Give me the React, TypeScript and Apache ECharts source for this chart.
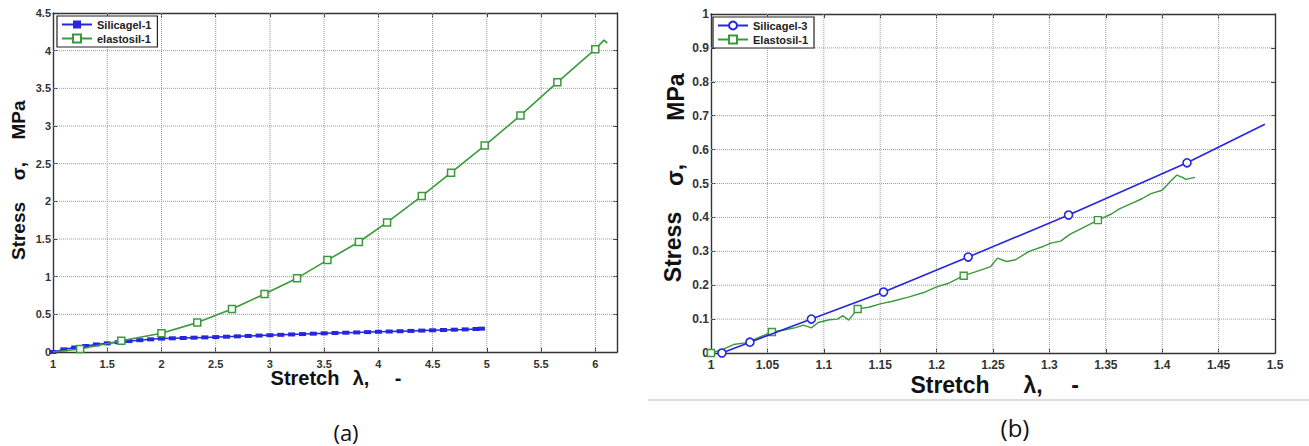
import React, { useEffect, useRef } from "react";
import * as echarts from "echarts";

// ---- Panel (a) data ----
const silicagel1Lambda = [1.0, 1.1, 1.2, 1.3, 1.4, 1.5, 1.6, 1.7, 1.8, 1.9, 2.0, 2.1, 2.2, 2.3, 2.4, 2.5, 2.6, 2.7, 2.8, 2.9, 3.0, 3.1, 3.2, 3.3, 3.4, 3.5, 3.6, 3.7, 3.8, 3.9, 4.0, 4.1, 4.2, 4.3, 4.4, 4.5, 4.6, 4.7, 4.8, 4.9, 4.95];
const silicagel1Stress = [0, 0.035, 0.06, 0.08, 0.1, 0.115, 0.13, 0.145, 0.157, 0.168, 0.178, 0.182, 0.186, 0.19, 0.194, 0.198, 0.203, 0.208, 0.213, 0.218, 0.223, 0.228, 0.233, 0.238, 0.243, 0.248, 0.252, 0.256, 0.26, 0.264, 0.268, 0.272, 0.276, 0.28, 0.284, 0.288, 0.292, 0.296, 0.3, 0.305, 0.31];

const elastosilALambda = [1.0, 1.25, 1.63, 2.0, 2.33, 2.65, 2.95, 3.25, 3.53, 3.82, 4.08, 4.4, 4.67, 4.98, 5.31, 5.65, 6.0, 6.08, 6.11];
const elastosilAStress = [0, 0.04, 0.15, 0.25, 0.39, 0.57, 0.77, 0.98, 1.22, 1.46, 1.72, 2.07, 2.38, 2.74, 3.14, 3.58, 4.02, 4.14, 4.1];
const elastosilAMarkers = [1.25, 1.63, 2.0, 2.33, 2.65, 2.95, 3.25, 3.53, 3.82, 4.08, 4.4, 4.67, 4.98, 5.31, 5.65, 6.0];

const gridXTicksA = [1.5, 2, 2.5, 3, 3.5, 4, 4.5, 5, 5.5, 6];
const gridYTicksA = [0.5, 1, 1.5, 2, 2.5, 3, 3.5, 4];

// ---- Panel (b) data ----
const silicagel3Lambda = [1.0097, 1.0345, 1.089, 1.153, 1.228, 1.317, 1.422, 1.491];
const silicagel3Stress = [0, 0.032, 0.1, 0.18, 0.283, 0.407, 0.561, 0.675];
const silicagel3Markers = [1.0097, 1.0345, 1.089, 1.153, 1.228, 1.317, 1.422];

const elastosilBLambda = [1.0, 1.01, 1.02, 1.03, 1.04, 1.054, 1.065, 1.075, 1.082, 1.089, 1.095, 1.105, 1.112, 1.117, 1.122, 1.13, 1.14, 1.15, 1.16, 1.175, 1.19, 1.2, 1.21, 1.224, 1.235, 1.248, 1.254, 1.262, 1.27, 1.282, 1.295, 1.302, 1.31, 1.318, 1.33, 1.343, 1.355, 1.362, 1.372, 1.382, 1.39, 1.4, 1.407, 1.413, 1.418, 1.421, 1.429];
const elastosilBStress = [0, 0.01, 0.025, 0.03, 0.042, 0.062, 0.068, 0.075, 0.082, 0.074, 0.09, 0.098, 0.1, 0.11, 0.097, 0.13, 0.135, 0.145, 0.152, 0.165, 0.18, 0.195, 0.205, 0.228, 0.24, 0.255, 0.28, 0.27, 0.275, 0.3, 0.315, 0.325, 0.33, 0.35, 0.37, 0.392, 0.41, 0.425, 0.44, 0.455, 0.47, 0.48, 0.505, 0.525, 0.518, 0.512, 0.518];
const elastosilBMarkers = [1.0, 1.054, 1.13, 1.224, 1.343];

const gridXTicksB = [1.05, 1.1, 1.15, 1.2, 1.25, 1.3, 1.35, 1.4, 1.45];
const gridYTicksB = [0.1, 0.2, 0.3, 0.4, 0.5, 0.6, 0.7, 0.8, 0.9];

const legendA = ["Silicagel-1", "elastosil-1"];
const legendB = ["Silicagel-3", "Elastosil-1"];

const RANGE_A = { xMin: 1, xMax: 6.2, yMin: 0, yMax: 4.5 };
const RANGE_B = { xMin: 1, xMax: 1.5, yMin: 0, yMax: 1 };

const FONT = "'Liberation Sans', Arial, Helvetica, sans-serif";
const BLUE = "#2626e0";
const GREEN = "#3a9a3a";
const AXIS = "#333";

const zip = (xs: number[], ys: number[]) => xs.map((x, i) => [x, ys[i]]);

function mainAxis(gridIndex: number, min: number, max: number, interval: number, fontSize: number, margin: number, step: number) {
  return {
    type: "value",
    gridIndex,
    min,
    max,
    interval,
    axisLine: { show: true, onZero: false, lineStyle: { color: AXIS, width: 1.4 } },
    axisTick: { show: true, inside: true, length: 4, lineStyle: { color: AXIS, width: 1 } },
    axisLabel: {
      show: true,
      margin,
      color: "#333",
      fontWeight: "bold",
      fontSize,
      fontFamily: FONT,
      formatter: (v: number) => {
        const k = v / step;
        return Math.abs(k - Math.round(k)) < 1e-6 ? String(Math.round(v * 1000) / 1000) : "";
      },
    },
    splitLine: { show: false },
  };
}

function boxAxis(gridIndex: number, position: string, min: number, max: number, interval: number) {
  return {
    type: "value",
    gridIndex,
    position,
    min,
    max,
    interval,
    axisLine: { show: true, onZero: false, lineStyle: { color: AXIS, width: 1.4 } },
    axisTick: { show: true, inside: true, length: 4, lineStyle: { color: AXIS, width: 1 } },
    axisLabel: { show: false },
    splitLine: { show: false },
  };
}

// dotted grid lines drawn as thin series through the library's scales
function gridSeries(axisIndex: number, xt: number[], yt: number[], r: { xMin: number; xMax: number; yMin: number; yMax: number }) {
  const common = {
    type: "line",
    xAxisIndex: axisIndex,
    yAxisIndex: axisIndex,
    symbol: "none",
    silent: true,
    z: 2.5,
    lineStyle: { color: "#9a9a9a", type: "dotted", width: 1 },
    emphasis: { disabled: true },
    tooltip: { show: false },
  };
  return [
    ...xt.map((x) => ({ ...common, data: [[x, r.yMin], [x, r.yMax]] })),
    ...yt.map((y) => ({ ...common, data: [[r.xMin, y], [r.xMax, y]] })),
  ];
}

function legendCfg(data: string[], left: number, top: number) {
  return {
    data,
    left,
    top,
    orient: "vertical",
    backgroundColor: "#fff",
    borderColor: "#222",
    borderWidth: 1.2,
    borderRadius: 0,
    padding: [3, 6, 3, 4],
    itemGap: 3,
    itemWidth: 30,
    itemHeight: 10,
    textStyle: { color: "#222", fontWeight: "bold", fontSize: 11, fontFamily: FONT },
  };
}

function txt(text: string, x: number, y: number, size: number, rotation = 0, weight = "bold", family = FONT) {
  return {
    type: "text",
    x,
    y,
    rotation,
    style: {
      text,
      fill: "#111",
      font: `${weight} ${size}px ${family}`,
      textAlign: "center",
      textVerticalAlign: "middle",
    },
  };
}

export default function App() {
  const ref = useRef<HTMLDivElement>(null);
  useEffect(() => {
    if (!ref.current) return;
    const chart = echarts.init(ref.current, undefined, { renderer: "svg" });
    const mA = new Set(elastosilAMarkers);
    const mS3 = new Set(silicagel3Markers);
    const mB = new Set(elastosilBMarkers);
    chart.setOption({
      animation: false,
      backgroundColor: "#fff",
      grid: [
        { left: 53, top: 13, width: 564, height: 339 },
        { left: 711, top: 14, width: 564, height: 339 },
      ],
      xAxis: [
        mainAxis(0, 1, 6.2, 0.5, 11, 6, 0.5),
        mainAxis(1, 1, 1.5, 0.05, 12, 6, 0.05),
        boxAxis(0, "top", 1, 6.2, 0.5),
        boxAxis(1, "top", 1, 1.5, 0.05),
      ],
      yAxis: [
        mainAxis(0, 0, 4.5, 0.5, 11, 2, 0.5),
        mainAxis(1, 0, 1, 0.1, 12, 2, 0.1),
        boxAxis(0, "right", 0, 4.5, 0.5),
        boxAxis(1, "right", 0, 1, 0.1),
      ],
      legend: [legendCfg(legendA, 57, 16), legendCfg(legendB, 713, 17)],
      series: [
        ...gridSeries(0, gridXTicksA, gridYTicksA, RANGE_A),
        ...gridSeries(1, gridXTicksB, gridYTicksB, RANGE_B),
        {
          type: "line",
          name: legendA[0],
          xAxisIndex: 0,
          yAxisIndex: 0,
          data: zip(silicagel1Lambda, silicagel1Stress),
          symbol: "rect",
          symbolSize: [7, 4],
          itemStyle: { color: BLUE },
          lineStyle: { color: BLUE, width: 1.5 },
          z: 3,
        },
        {
          type: "line",
          name: legendA[1],
          xAxisIndex: 0,
          yAxisIndex: 0,
          data: zip(elastosilALambda, elastosilAStress),
          symbol: "rect",
          symbolSize: (v: number[]) => (mA.has(v[0]) ? 7 : 0),
          itemStyle: { color: "#fff", borderColor: GREEN, borderWidth: 1.5 },
          lineStyle: { color: GREEN, width: 1.6 },
          z: 4,
        },
        {
          type: "line",
          name: legendB[0],
          xAxisIndex: 1,
          yAxisIndex: 1,
          data: zip(silicagel3Lambda, silicagel3Stress),
          symbol: "circle",
          symbolSize: (v: number[]) => (mS3.has(v[0]) ? 8 : 0),
          itemStyle: { color: "#fff", borderColor: BLUE, borderWidth: 1.6 },
          lineStyle: { color: BLUE, width: 1.6 },
          z: 4,
        },
        {
          type: "line",
          name: legendB[1],
          xAxisIndex: 1,
          yAxisIndex: 1,
          data: zip(elastosilBLambda, elastosilBStress),
          symbol: "rect",
          symbolSize: (v: number[]) => (mB.has(v[0]) ? 7 : 0),
          itemStyle: { color: "#fff", borderColor: GREEN, borderWidth: 1.4 },
          lineStyle: { color: GREEN, width: 1.4 },
          z: 3,
        },
      ],
      graphic: [
        // panel (a) axis names
        txt("Stretch", 305, 378, 20),
        txt("λ,", 361, 378, 20),
        txt("-", 398, 378, 20),
        txt("Stress", 18, 231, 19, Math.PI / 2),
        txt("σ,", 18, 171, 19, Math.PI / 2),
        txt("MPa", 18, 120, 19, Math.PI / 2),
        // panel (b) axis names
        txt("Stretch", 950, 385, 23),
        txt("λ,", 1033, 385, 23),
        txt("-", 1075, 385, 23),
        txt("Stress", 673, 247, 23, Math.PI / 2),
        txt("σ,", 675, 175, 23, Math.PI / 2),
        txt("MPa", 676, 97, 23, Math.PI / 2),
        // separator line under panel (b)
        { type: "line", shape: { x1: 648, y1: 400, x2: 1309, y2: 400 }, style: { stroke: "#dcdcdc", lineWidth: 2 } },
        // captions
        txt("(a)", 346, 432, 22, 0, "normal", "'Open Sans', 'Noto Sans', sans-serif"),
        txt("(b)", 1015, 427, 24, 0, "normal", "'Open Sans', 'Noto Sans', sans-serif"),
      ],
    });
    return () => chart.dispose();
  }, []);
  return <div ref={ref} style={{ position: "fixed", left: 0, top: 0, width: 1309, height: 446 }} />;
}
